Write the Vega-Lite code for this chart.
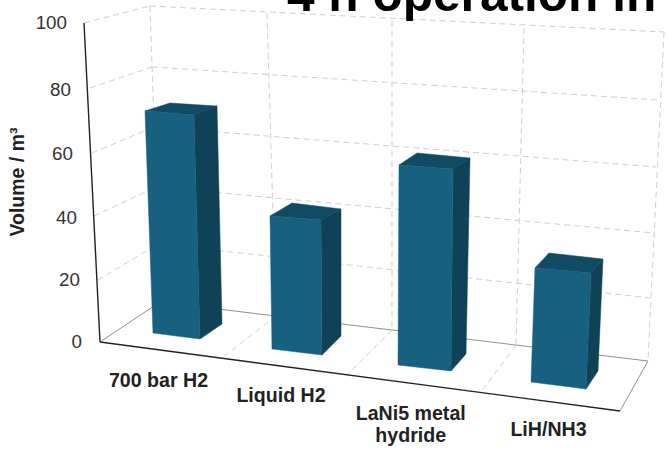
{"$schema":"https://vega.github.io/schema/vega-lite/v6.json","width":668,"height":456,"padding":0,"autosize":{"type":"none"},"background":"white","config":{"view":{"stroke":null}},
"datasets":{
"dashed":[
{"name":"back 100","u":0.4,"v":105,"u2":4.512,"v2":96.875},
{"name":"back 80","u":0.416,"v":85.9375,"u2":4.472,"v2":75.625},
{"name":"back 60","u":0.432,"v":67.1875,"u2":4.448,"v2":54.6875},
{"name":"back 40","u":0.448,"v":48.4375,"u2":4.432,"v2":34.0625},
{"name":"back 20","u":0.464,"v":30.625,"u2":4.408,"v2":13.75},
{"name":"side 100","u":-0.128,"v":99.6875,"u2":0.4,"v2":105},
{"name":"side 80","u":-0.08,"v":79.375,"u2":0.416,"v2":85.9375},
{"name":"side 60","u":-0.064,"v":59.0625,"u2":0.432,"v2":67.1875},
{"name":"side 40","u":-0.048,"v":39.375,"u2":0.448,"v2":48.4375},
{"name":"side 20","u":-0.016,"v":19.375,"u2":0.464,"v2":30.625},
{"name":"wall 0","u":0.4,"v":105,"u2":0.48,"v2":12.5},
{"name":"wall 1","u":1.336,"v":102.8125,"u2":1.408,"v2":8.125},
{"name":"wall 2","u":2.336,"v":100.3125,"u2":2.336,"v2":3.75},
{"name":"wall 3","u":3.392,"v":98.125,"u2":3.328,"v2":-0.9375},
{"name":"wall 4","u":4.512,"v":96.875,"u2":4.384,"v2":-5.9375},
{"name":"floor 1","u":1.408,"v":8.125,"u2":0.976,"v2":-5},
{"name":"floor 2","u":2.336,"v":3.75,"u2":1.976,"v2":-10.3125},
{"name":"floor 3","u":3.328,"v":-0.9375,"u2":3.048,"v2":-15.625}
],
"floorEdges":[
{"name":"left","u":0,"v":0,"u2":0.48,"v2":12.5},
{"name":"right","u":4.16,"v":-21.5625,"u2":4.384,"v2":-5.9375},
{"name":"back","u":0.48,"v":12.5,"u2":4.384,"v2":-5.9375}
],
"axes":[
{"name":"volume","u":-0.128,"v":99.6875,"u2":0,"v2":0},
{"name":"category","u":0,"v":0,"u2":4.16,"v2":-21.5625}
],
"faces":[
{"bar":"700 bar H2","face":"top","pt":1,"u":0.36,"v":72.1875},{"bar":"700 bar H2","face":"top","pt":2,"u":0.56,"v":74.6875},{"bar":"700 bar H2","face":"top","pt":3,"u":0.936,"v":73.75},{"bar":"700 bar H2","face":"top","pt":4,"u":0.752,"v":70.9375},
{"bar":"700 bar H2","face":"side","pt":1,"u":0.752,"v":70.9375},{"bar":"700 bar H2","face":"side","pt":2,"u":0.936,"v":73.75},{"bar":"700 bar H2","face":"side","pt":3,"u":0.976,"v":5.625},{"bar":"700 bar H2","face":"side","pt":4,"u":0.8,"v":0.9375},
{"bar":"700 bar H2","face":"front","pt":1,"u":0.36,"v":72.1875},{"bar":"700 bar H2","face":"front","pt":2,"u":0.752,"v":70.9375},{"bar":"700 bar H2","face":"front","pt":3,"u":0.8,"v":0.9375},{"bar":"700 bar H2","face":"front","pt":4,"u":0.424,"v":2.8125},
{"bar":"Liquid H2","face":"top","pt":1,"u":1.36,"v":39.375},{"bar":"Liquid H2","face":"top","pt":2,"u":1.536,"v":43.4375},{"bar":"Liquid H2","face":"top","pt":3,"u":1.928,"v":41.5625},{"bar":"Liquid H2","face":"top","pt":4,"u":1.768,"v":38.125},
{"bar":"Liquid H2","face":"side","pt":1,"u":1.768,"v":38.125},{"bar":"Liquid H2","face":"side","pt":2,"u":1.928,"v":41.5625},{"bar":"Liquid H2","face":"side","pt":3,"u":1.928,"v":1.875},{"bar":"Liquid H2","face":"side","pt":4,"u":1.776,"v":-4.0625},
{"bar":"Liquid H2","face":"front","pt":1,"u":1.36,"v":39.375},{"bar":"Liquid H2","face":"front","pt":2,"u":1.768,"v":38.125},{"bar":"Liquid H2","face":"front","pt":3,"u":1.776,"v":-4.0625},{"bar":"Liquid H2","face":"front","pt":4,"u":1.376,"v":-2.1875},
{"bar":"LaNi5 metal hydride","face":"top","pt":1,"u":2.392,"v":55.3125},{"bar":"LaNi5 metal hydride","face":"top","pt":2,"u":2.536,"v":59.0625},{"bar":"LaNi5 metal hydride","face":"top","pt":3,"u":2.96,"v":57.5},{"bar":"LaNi5 metal hydride","face":"top","pt":4,"u":2.824,"v":54.0625},
{"bar":"LaNi5 metal hydride","face":"side","pt":1,"u":2.824,"v":54.0625},{"bar":"LaNi5 metal hydride","face":"side","pt":2,"u":2.96,"v":57.5},{"bar":"LaNi5 metal hydride","face":"side","pt":3,"u":2.928,"v":-3.75},{"bar":"LaNi5 metal hydride","face":"side","pt":4,"u":2.808,"v":-9.0625},
{"bar":"LaNi5 metal hydride","face":"front","pt":1,"u":2.392,"v":55.3125},{"bar":"LaNi5 metal hydride","face":"front","pt":2,"u":2.824,"v":54.0625},{"bar":"LaNi5 metal hydride","face":"front","pt":3,"u":2.808,"v":-9.0625},{"bar":"LaNi5 metal hydride","face":"front","pt":4,"u":2.384,"v":-7.1875},
{"bar":"LiH/NH3","face":"top","pt":1,"u":3.48,"v":23.125},{"bar":"LiH/NH3","face":"top","pt":2,"u":3.592,"v":27.8125},{"bar":"LiH/NH3","face":"top","pt":3,"u":4.024,"v":25.9375},{"bar":"LiH/NH3","face":"top","pt":4,"u":3.928,"v":21.5625},
{"bar":"LiH/NH3","face":"side","pt":1,"u":3.928,"v":21.5625},{"bar":"LiH/NH3","face":"side","pt":2,"u":4.024,"v":25.9375},{"bar":"LiH/NH3","face":"side","pt":3,"u":3.984,"v":-9.0625},{"bar":"LiH/NH3","face":"side","pt":4,"u":3.888,"v":-14.6875},
{"bar":"LiH/NH3","face":"front","pt":1,"u":3.48,"v":23.125},{"bar":"LiH/NH3","face":"front","pt":2,"u":3.928,"v":21.5625},{"bar":"LiH/NH3","face":"front","pt":3,"u":3.888,"v":-14.6875},{"bar":"LiH/NH3","face":"front","pt":4,"u":3.448,"v":-12.5}
],
"ticks":[
{"t":"100","u":-0.264,"v":99.6875},{"t":"80","u":-0.232,"v":78.75},{"t":"60","u":-0.216,"v":58.75},{"t":"40","u":-0.184,"v":38.75},{"t":"20","u":-0.16,"v":19.375},{"t":"0","u":-0.144,"v":0}
],
"cats":[
{"t":"700 bar H2","u":0.468,"v":-12.1875},{"t":"Liquid H2","u":1.448,"v":-16.875},{"t":"LaNi5 metal\nhydride","u":2.486,"v":-22.5},{"t":"LiH/NH3","u":3.588,"v":-27.5}
]
},
"layer":[
{"data":{"name":"dashed"},"mark":{"type":"rule","color":"#d2cfcb","strokeWidth":1,"strokeDash":[6,4]},"encoding":{
"x":{"field":"u","type":"quantitative","scale":{"domain":[-0.8,4.544],"nice":false,"zero":false},"axis":null},
"y":{"field":"v","type":"quantitative","scale":{"domain":[-35.625,106.875],"nice":false,"zero":false},"axis":null},
"x2":{"field":"u2"},"y2":{"field":"v2"}}},
{"data":{"name":"floorEdges"},"mark":{"type":"rule","color":"#8f8f8f","strokeWidth":1},"encoding":{
"x":{"field":"u","type":"quantitative"},"y":{"field":"v","type":"quantitative"},"x2":{"field":"u2"},"y2":{"field":"v2"}}},
{"data":{"name":"axes"},"mark":{"type":"rule","color":"#222222","strokeWidth":1.4},"encoding":{
"x":{"field":"u","type":"quantitative"},"y":{"field":"v","type":"quantitative"},"x2":{"field":"u2"},"y2":{"field":"v2"}}},
{"data":{"name":"faces"},"mark":{"type":"line","strokeWidth":0.5,"interpolate":"linear-closed"},"encoding":{
"x":{"field":"u","type":"quantitative"},"y":{"field":"v","type":"quantitative"},
"order":{"field":"pt","type":"quantitative"},
"detail":{"field":"bar","type":"nominal"},
"fill":{"field":"face","type":"nominal","legend":null,"scale":{"domain":["front","side","top"],"range":["#17607f","#0f4257","#114a63"]}},
"stroke":{"field":"face","type":"nominal","legend":null,"scale":{"domain":["front","side","top"],"range":["#17607f","#0f4257","#114a63"]}}}},
{"data":{"name":"ticks"},"mark":{"type":"text","align":"right","baseline":"middle","font":"Liberation Sans","fontSize":18.8,"color":"#333333"},"encoding":{
"x":{"field":"u","type":"quantitative"},"y":{"field":"v","type":"quantitative"},"text":{"field":"t"}}},
{"data":{"name":"cats"},"mark":{"type":"text","align":"center","baseline":"middle","font":"Liberation Sans","fontWeight":"bold","fontSize":19.6,"lineHeight":22,"lineBreak":"\n","color":"#222222"},"encoding":{
"x":{"field":"u","type":"quantitative"},"y":{"field":"v","type":"quantitative"},"text":{"field":"t"}}},
{"data":{"values":[{"t":"Volume / m³","u":-0.656,"v":50}]},"mark":{"type":"text","angle":270,"align":"center","baseline":"middle","font":"Liberation Sans","fontWeight":"bold","fontSize":19.5,"color":"#222222"},"encoding":{
"x":{"field":"u","type":"quantitative"},"y":{"field":"v","type":"quantitative"},"text":{"field":"t"}}},
{"data":{"values":[{"t":"4 h operation in","u":1.496,"v":103.4375}]},"mark":{"type":"text","align":"left","baseline":"alphabetic","font":"Liberation Sans","fontWeight":"bold","fontSize":49.6,"color":"#000000"},"encoding":{
"x":{"field":"u","type":"quantitative"},"y":{"field":"v","type":"quantitative"},"text":{"field":"t"}}}
]}
